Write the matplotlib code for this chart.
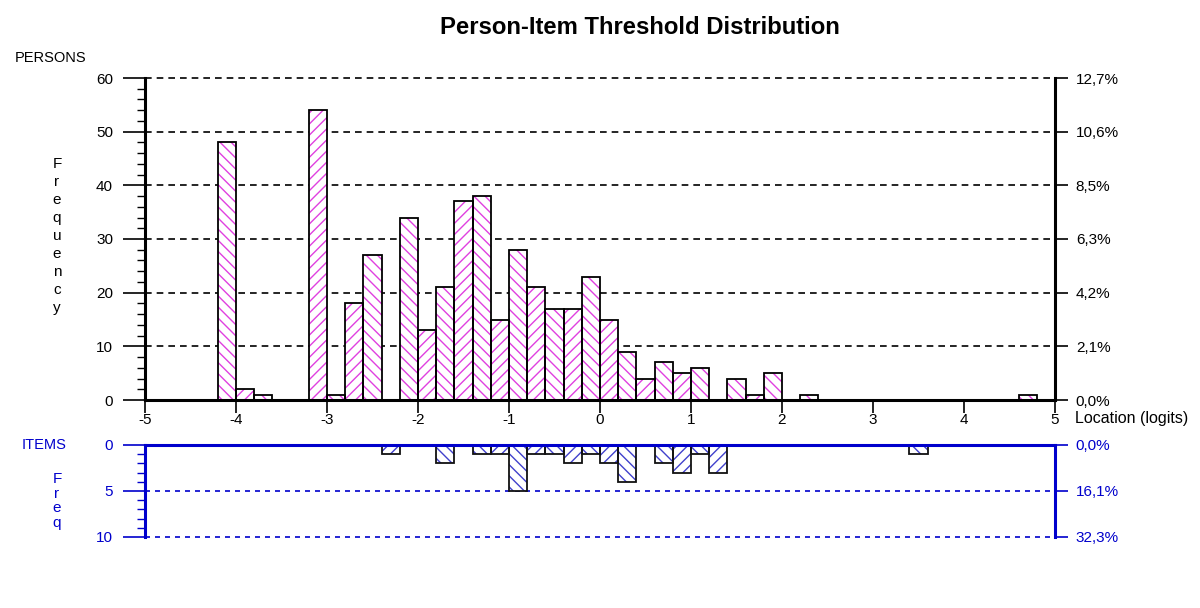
import numpy as np
import matplotlib
matplotlib.use("Agg")
import matplotlib.pyplot as plt
from matplotlib.ticker import MultipleLocator

plt.rcParams['font.family'] = ['Liberation Sans', 'DejaVu Sans']
plt.rcParams['hatch.linewidth'] = 1.0

# bins of 0.2 logits, left edges
person_left = [-4.2, -4.0, -3.8, -3.2, -3.0, -2.8, -2.6, -2.2, -2.0, -1.8,
               -1.6, -1.4, -1.2, -1.0, -0.8, -0.6, -0.4, -0.2, 0.0, 0.2,
               0.4, 0.6, 0.8, 1.0, 1.4, 1.6, 1.8, 2.2, 4.6]
person_freq = [48, 2, 1, 54, 1, 18, 27, 34, 13, 21,
               37, 38, 15, 28, 21, 17, 17, 23, 15, 9,
               4, 7, 5, 6, 4, 1, 5, 1, 1]

item_left = [-2.4, -1.8, -1.4, -1.2, -1.0, -0.8, -0.6, -0.4, -0.2, 0.0,
             0.2, 0.6, 0.8, 1.0, 1.2, 3.4]
item_freq = [1, 2, 1, 1, 5, 1, 1, 2, 1, 2,
             4, 2, 3, 1, 3, 1]

x_ticks = [-5, -4, -3, -2, -1, 0, 1, 2, 3, 4, 5]
person_ticks = [0, 10, 20, 30, 40, 50, 60]
item_ticks = [0, 5, 10]

BW = 0.2
MAGENTA = '#e040e0'
BLUE = '#0000cc'
HBLUE = '#4040cc'


def pct(v, n):
    return f"{100 * v / n:.1f}%".replace('.', ',')


def hatch_for(left):
    k = int(round((left + 5) / BW))
    return '\\\\\\' if k % 2 == 0 else '///'


fig = plt.figure(figsize=(12, 6.08), dpi=100)
W, H = 1200, 608

ax = fig.add_axes([145 / W, (H - 400) / H, 910 / W, 322 / H])
ax2 = fig.add_axes([145 / W, (H - 537) / H, 910 / W, 92 / H])

# persons histogram
for l, f in zip(person_left, person_freq):
    ax.bar(l, f, width=BW, align='edge', color='white', edgecolor=MAGENTA,
           hatch=hatch_for(l), linewidth=0, zorder=3)
ax.bar(person_left, person_freq, width=BW, align='edge', color='none',
       edgecolor='black', linewidth=1.3, zorder=4)

ax.set_xlim(-5, 5)
ax.set_ylim(0, 60)
ax.set_xticks(x_ticks)
ax.set_xticklabels([str(t) for t in x_ticks])
ax.set_yticks(person_ticks)
ax.yaxis.set_minor_locator(MultipleLocator(2))
for y in person_ticks[1:]:
    ax.axhline(y, color='black', linestyle=(0, (4, 3)), linewidth=1.2,
               zorder=1, clip_on=False)
ax.spines['top'].set_visible(False)
for s in ['left', 'right', 'bottom']:
    ax.spines[s].set_linewidth(2.2)
    ax.spines[s].set_zorder(5)
ax.tick_params(axis='y', which='major', length=16, width=1.2, labelsize=11, pad=7)
ax.tick_params(axis='y', which='minor', length=6, width=1.0)
ax.tick_params(axis='x', length=9, width=1.2, labelsize=11, pad=0)

axr = ax.twinx()
axr.set_ylim(0, 60)
axr.set_yticks(person_ticks)
n_pers = sum(person_freq)
axr.set_yticklabels([pct(v, n_pers) for v in person_ticks])
axr.tick_params(axis='y', length=9, width=1.2, labelsize=11, pad=6)
for s in axr.spines.values():
    s.set_visible(False)

# items histogram (hanging down)
for l, f in zip(item_left, item_freq):
    ax2.bar(l, f, width=BW, align='edge', color='white', edgecolor=HBLUE,
            hatch=hatch_for(l), linewidth=0, zorder=3)
ax2.bar(item_left, item_freq, width=BW, align='edge', color='none',
        edgecolor='#111111', linewidth=1.3, zorder=4)
ax2.set_xlim(-5, 5)
ax2.set_ylim(10, 0)
ax2.set_xticks([])
ax2.set_yticks(item_ticks)
ax2.yaxis.set_minor_locator(MultipleLocator(1))
for y in item_ticks[1:]:
    ax2.axhline(y, color=BLUE, linestyle=(0, (3, 3)), linewidth=1.2,
                zorder=1, clip_on=False)
ax2.spines['bottom'].set_visible(False)
for s in ['left', 'right', 'top']:
    ax2.spines[s].set_color(BLUE)
    ax2.spines[s].set_linewidth(2.2)
    ax2.spines[s].set_zorder(5)
ax2.tick_params(axis='y', which='major', length=16, width=1.2, color=BLUE,
                labelcolor=BLUE, labelsize=11, pad=7)
ax2.tick_params(axis='y', which='minor', length=6, width=1.0, color=BLUE)

ax2r = ax2.twinx()
ax2r.set_ylim(10, 0)
ax2r.set_yticks(item_ticks)
n_items = sum(item_freq)
ax2r.set_yticklabels([pct(v, n_items) for v in item_ticks])
ax2r.tick_params(axis='y', length=9, width=1.2, color=BLUE, labelcolor=BLUE,
                 labelsize=11, pad=6)
for s in ax2r.spines.values():
    s.set_visible(False)

# texts
fig.text(640 / W, 1 - 27 / H, 'Person-Item Threshold Distribution',
         ha='center', va='center', fontsize=17.2, fontweight='bold')
fig.text(15 / W, 1 - 58 / H, 'PERSONS', ha='left', va='center', fontsize=10.5)
fig.text(57 / W, 1 - 236 / H, '\n'.join('Frequency'), ha='center', va='center',
         fontsize=11, linespacing=1.37)
fig.text(1075 / W, 1 - 418 / H, 'Location (logits)', ha='left', va='center',
         fontsize=11.5)
fig.text(22 / W, 1 - 445 / H, 'ITEMS', ha='left', va='center', fontsize=10.5,
         color=BLUE)
fig.text(57 / W, 1 - 501 / H, '\n'.join('Freq'), ha='center', va='center',
         fontsize=11, linespacing=1.08, color=BLUE)

fig.savefig('out.png', dpi=100)
